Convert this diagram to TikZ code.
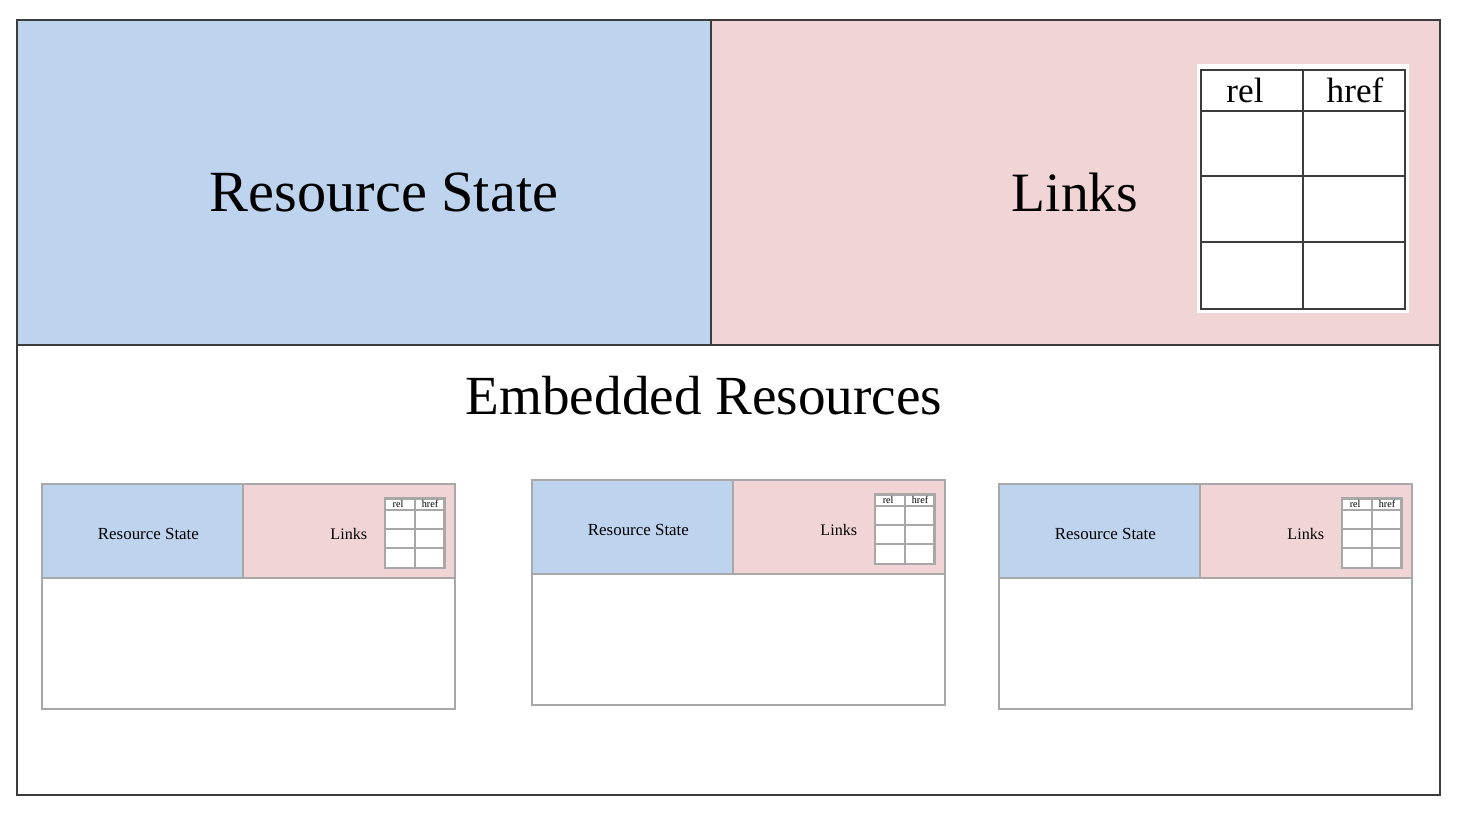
\documentclass[tikz,border=0pt]{standalone}
\usepackage{fontspec}
\setmainfont{Liberation Serif}
\definecolor{stateblue}{HTML}{BED3EE}
\definecolor{linkpink}{HTML}{F1D4D5}
\definecolor{framegray}{HTML}{3C3C3C}
\definecolor{smallgray}{HTML}{A8A8A8}

\tikzset{
  labeltext/.style={inner sep=0pt, font=\fontsize{#1}{18}\selectfont},
  labeltext/.default=16,
  celltext/.style={inner sep=0pt, font=\fontsize{10}{12}\selectfont},
  bigline/.style={draw=framegray, line width=0.75pt},
  smallline/.style={draw=smallgray, line width=0.6pt},
}

% one resource: state, links and link table
\newcommand{\halres}[3]{%
  \fill[stateblue] (0,0) rectangle (6.94,-3.25);
  \fill[linkpink] (6.94,0) rectangle (14.23,-3.25);
  \draw[#2] (0,0) rectangle (14.23,-7.75);
  \draw[#2] (0,-3.25) -- (14.23,-3.25) (6.94,0) -- (6.94,-3.25);
  \node[labeltext=16.6] (#1state) at (3.67,-1.72) {Resource State};
  \node[labeltext=15.8] (#1links) at (10.58,-1.72) {Links};
  \fill[white] (11.80,-0.44) rectangle (13.92,-2.93);
  \draw[#3] (11.84,-0.50) rectangle (13.88,-2.89) (12.86,-0.50) -- (12.86,-2.89);
  \foreach \ry in {-0.91,-1.56,-2.22}
    \draw[#3] (11.84,\ry) -- (13.88,\ry);
  \node[celltext] (#1rel) at (12.28,-0.70) {rel};
  \node[celltext] (#1href) at (13.38,-0.70) {href};
}

\begin{document}
\begin{tikzpicture}
\useasboundingbox (0,0) rectangle (14.58,-8.16);

% main resource
\begin{scope}[shift={(0.17,-0.20)}]
  \halres{main}{bigline}{bigline}
  \node[labeltext=15.7] (embedded) at (6.87,-3.76) {Embedded Resources};
\end{scope}

% embedded resources
\foreach \bx/\by/\bn in {0.42/-4.84/a, 5.32/-4.80/b, 9.99/-4.84/c}{
  \begin{scope}[shift={(\bx,\by)}, scale=0.29, transform shape]
    \halres{emb\bn}{smallline}{smallline}
  \end{scope}
}
\end{tikzpicture}
\end{document}
